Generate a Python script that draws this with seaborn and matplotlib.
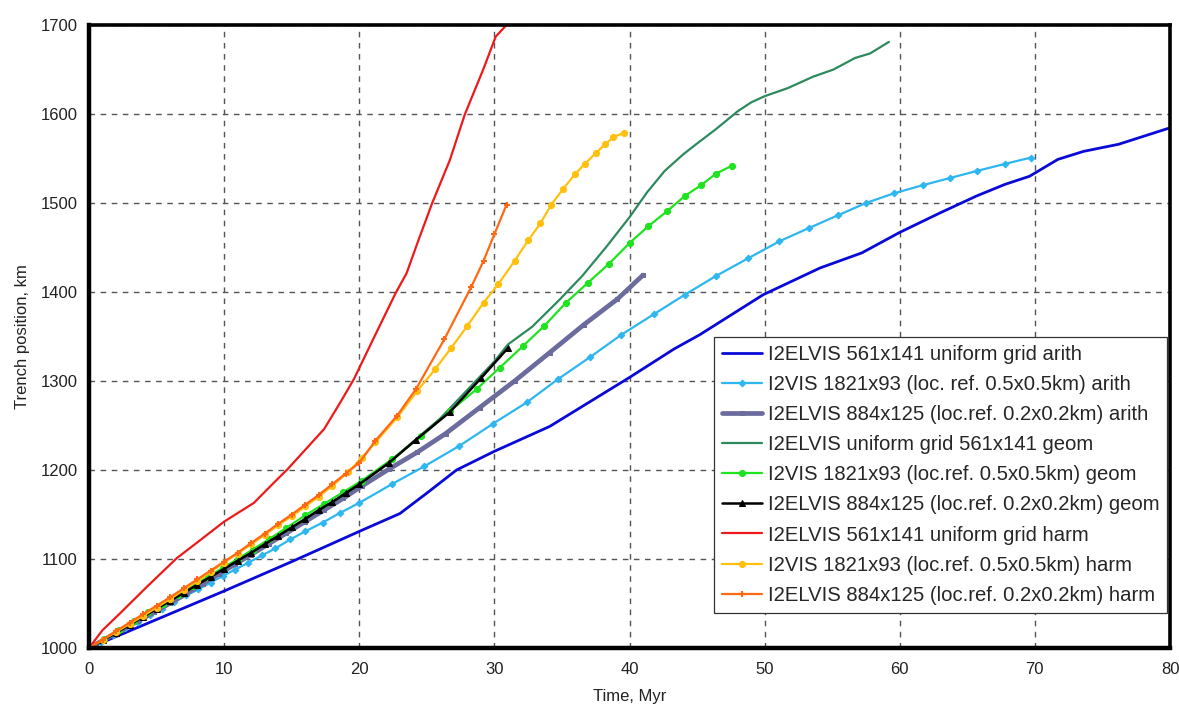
import matplotlib
matplotlib.use("Agg")
import matplotlib.pyplot as plt
import seaborn as sns
import pandas as pd
from matplotlib.ticker import MultipleLocator

# ---------------- data ----------------
labels = [
    "I2ELVIS 561x141 uniform grid arith",
    "I2VIS 1821x93 (loc. ref. 0.5x0.5km) arith",
    "I2ELVIS 884x125 (loc.ref. 0.2x0.2km) arith",
    "I2ELVIS uniform grid 561x141 geom",
    "I2VIS 1821x93 (loc.ref. 0.5x0.5km) geom",
    "I2ELVIS 884x125 (loc.ref. 0.2x0.2km) geom",
    "I2ELVIS 561x141 uniform grid harm",
    "I2VIS 1821x93 (loc.ref. 0.5x0.5km) harm",
    "I2ELVIS 884x125 (loc.ref. 0.2x0.2km) harm",
]

blue_t = [0, 5, 10, 15, 17.8, 20, 23, 25, 27.2, 30, 34.1, 40, 43.3, 45.2, 49.9, 54.1, 57.2, 60, 63, 65.7, 67.8, 69.6, 71.7, 73.6, 76.2, 79.9]
blue_y = [1000, 1032, 1064, 1097, 1116, 1131, 1151, 1174, 1200, 1221, 1249, 1304, 1336, 1352, 1397, 1427, 1444, 1467, 1489, 1508, 1521, 1530, 1549, 1558, 1566, 1584]

cyan_t = [0, 0.9, 1.8, 2.7, 3.6, 4.5, 5.4, 6.3, 7.2, 8.1, 9.0, 9.9, 10.8, 11.8, 12.8, 13.8, 14.9, 16.0, 17.3, 18.6, 20.0, 22.4, 24.8, 27.4, 29.9, 32.4, 34.7, 37.1, 39.4, 41.8, 44.1, 46.4, 48.8, 51.1, 53.3, 55.4, 57.5, 59.6, 61.7, 63.7, 65.7, 67.8, 69.7]
cyan_y = [1000, 1007, 1014.5, 1022, 1029.5, 1037, 1044, 1051.5, 1059, 1066, 1073.5, 1081, 1088, 1096, 1104, 1112, 1122, 1131, 1141, 1152, 1163, 1184, 1204, 1227, 1252, 1276, 1302, 1327, 1352, 1375, 1397, 1418, 1438, 1457, 1472, 1486, 1500, 1511, 1520, 1528, 1536, 1544, 1551]

purple_t = [0, 1.2, 2.4, 3.6, 4.8, 6, 7.2, 8.4, 9.6, 10.8, 12, 13.3, 14.6, 16, 17.4, 18.8, 20.2, 22.2, 24.3, 26.4, 28.9, 31.5, 34.1, 36.6, 39.1, 41]
purple_y = [1000, 1010, 1020, 1030, 1040, 1050.5, 1061, 1072, 1083, 1094, 1105, 1117, 1129, 1142, 1155, 1168, 1182, 1201, 1220, 1241, 1270, 1300, 1332, 1363, 1392, 1419]

dkgreen_t = [0, 5, 10, 15, 20, 22, 24, 26, 28, 30, 31, 32.8, 34.8, 36.5, 38.3, 40, 41.3, 42.6, 44, 45.1, 46.4, 48, 49, 50, 51.7, 53.6, 55.1, 56.7, 57.8, 59.2]
dkgreen_y = [1000, 1044, 1089, 1135, 1183, 1206, 1232, 1258, 1290, 1322, 1341, 1361, 1391, 1418, 1451, 1484, 1512, 1536, 1555, 1568, 1583, 1603, 1613, 1620, 1629, 1642, 1650, 1663, 1668, 1681]

green_t = [0, 1.1, 2.2, 3.3, 4.4, 5.5, 6.6, 7.7, 8.8, 9.9, 11, 12.1, 13.3, 14.6, 16, 17.4, 18.8, 20.2, 22.4, 24.6, 26.7, 28.7, 30.4, 32.1, 33.7, 35.3, 36.9, 38.5, 40, 41.4, 42.8, 44.1, 45.3, 46.4, 47.6]
green_y = [1000, 1010, 1020, 1030, 1040, 1050, 1060, 1070, 1080, 1090, 1100, 1110.5, 1122, 1135, 1149, 1162, 1175, 1188, 1212, 1238, 1266, 1291, 1315, 1339, 1362, 1388, 1410, 1432, 1455, 1474, 1491, 1508, 1520, 1533, 1542]

black_t = [0, 1, 2, 3, 4, 5, 6, 7, 8, 9, 10, 11, 12, 13, 14, 15, 16, 17, 18, 19, 20, 22.2, 24.2, 26.7, 29, 31]
black_y = [1000, 1008.5, 1017, 1026, 1035, 1044, 1053, 1062, 1071, 1080, 1089, 1098, 1107, 1116.5, 1126, 1135.5, 1145, 1155, 1164, 1174, 1184, 1208, 1234, 1265, 1303, 1337]

red_t = [0, 1, 2.3, 4.3, 6.5, 8.3, 10, 12.2, 13.7, 14.7, 15.9, 17.4, 18.6, 19.6, 21, 22.7, 23.5, 24.4, 25.4, 26.7, 27.8, 29.2, 30.1, 30.9]
red_y = [1000, 1020, 1039, 1069, 1101, 1122, 1142, 1163, 1186, 1201, 1221, 1246, 1276, 1302, 1346, 1399, 1421, 1459, 1500, 1548, 1599, 1651, 1687, 1700]

yellow_t = [0, 1, 2, 3, 4, 5, 6, 7, 8, 9, 10, 11, 12, 13, 14, 15, 16, 17, 18, 19.2, 20.2, 21.2, 22.8, 24.3, 25.6, 26.8, 28, 29.2, 30.3, 31.5, 32.5, 33.4, 34.2, 35.1, 36, 36.7, 37.5, 38.2, 38.8, 39.6]
yellow_y = [1000, 1009, 1018, 1027, 1036, 1045.5, 1055, 1065, 1075, 1085.5, 1096, 1106, 1116.5, 1127, 1138, 1148, 1159, 1170, 1182, 1198, 1214, 1231, 1259, 1289, 1313, 1337, 1362, 1388, 1409, 1435, 1458, 1477, 1498, 1516, 1533, 1544, 1556, 1566, 1574, 1579]

orange_t = [0, 1, 2, 3, 4, 5, 6, 7, 8, 9, 10, 11, 12, 13, 14, 15, 16, 17, 18, 19, 20, 21.2, 22.8, 24.2, 26.3, 28.3, 29.2, 30, 30.9]
orange_y = [1000, 1009.5, 1019, 1028.5, 1038, 1047.5, 1057, 1067, 1077, 1087, 1097, 1107, 1118, 1128.5, 1139.5, 1150, 1161, 1172, 1184, 1196, 1208, 1233, 1261, 1291, 1347, 1406, 1435, 1465, 1498]

x_ticks = [0, 10, 20, 30, 40, 50, 60, 70, 80]
y_ticks = [1000, 1100, 1200, 1300, 1400, 1500, 1600, 1700]

# ---------------- styling ----------------
sns.set_style("white")
plt.rcParams["font.family"] = ["Liberation Sans", "DejaVu Sans"]

series = [
    (blue_t, blue_y, "#0a0ad8", 2.0, None, 0),
    (cyan_t, cyan_y, "#2db6f0", 1.6, "D", 3.4),
    (purple_t, purple_y, "#6b6b9e", 3.4, "s", 2.8),
    (dkgreen_t, dkgreen_y, "#2e8a5e", 1.6, None, 0),
    (green_t, green_y, "#1ee31e", 1.6, "o", 4.4),
    (black_t, black_y, "#000000", 1.8, "^", 4.2),
    (red_t, red_y, "#ee1a1a", 1.6, None, 0),
    (yellow_t, yellow_y, "#ffc010", 1.6, "o", 4.4),
    (orange_t, orange_y, "#ff6914", 1.6, "+", 5.0),
]

fig = plt.figure(figsize=(11.79, 7.09), dpi=100)
ax = fig.add_axes([89 / 1179, 1 - 648 / 709, (1170 - 89) / 1179, (648 - 25) / 709])

for (t, y, col, lw, mk, ms), lab in zip(series, labels):
    df = pd.DataFrame({"t": t, "y": y})
    kw = dict(marker=mk, markersize=ms, markeredgecolor=col, markerfacecolor=col) if mk else {}
    if mk == "+":
        kw["markeredgewidth"] = 1.5
    sns.lineplot(data=df, x="t", y="y", ax=ax, color=col, linewidth=lw,
                 label=lab, errorbar=None, **kw)

ax.set_xlim(0, 80)
ax.set_ylim(1000, 1700)
ax.set_xticks(x_ticks)
ax.set_yticks(y_ticks)
ax.xaxis.set_minor_locator(MultipleLocator(2))
ax.yaxis.set_minor_locator(MultipleLocator(20))
ax.tick_params(axis="both", which="major", direction="inout", length=8, width=1.6,
               labelsize=12, labelcolor="#222222", color="black", pad=4)
ax.tick_params(axis="both", which="minor", direction="out", length=4, width=2.2, color="black")
ax.tick_params(axis="x", which="major", pad=6)

ax.grid(True, which="major", color="#555555", linestyle=(0, (4, 4)), linewidth=1.0)
ax.set_axisbelow(True)

for side in ["left", "bottom"]:
    ax.spines[side].set_linewidth(3.2)
for side in ["top", "right"]:
    ax.spines[side].set_linewidth(2.6)
for s in ax.spines.values():
    s.set_color("black")
    s.set_visible(True)

ax.set_xlabel("Time, Myr", fontsize=12, color="#222222", labelpad=9)
ax.set_ylabel("Trench position, km", fontsize=12, color="#222222", labelpad=8)

leg = ax.legend(loc="upper left", bbox_to_anchor=(0.578, 0.5), borderaxespad=0,
                fontsize=14.6, frameon=True, fancybox=False, numpoints=1,
                handlelength=2.0, handletextpad=0.25, labelspacing=0.55,
                borderpad=0.4, framealpha=1)
leg.get_frame().set_edgecolor("#333333")
leg.get_frame().set_linewidth(0.9)

fig.savefig("out.png", dpi=100)
